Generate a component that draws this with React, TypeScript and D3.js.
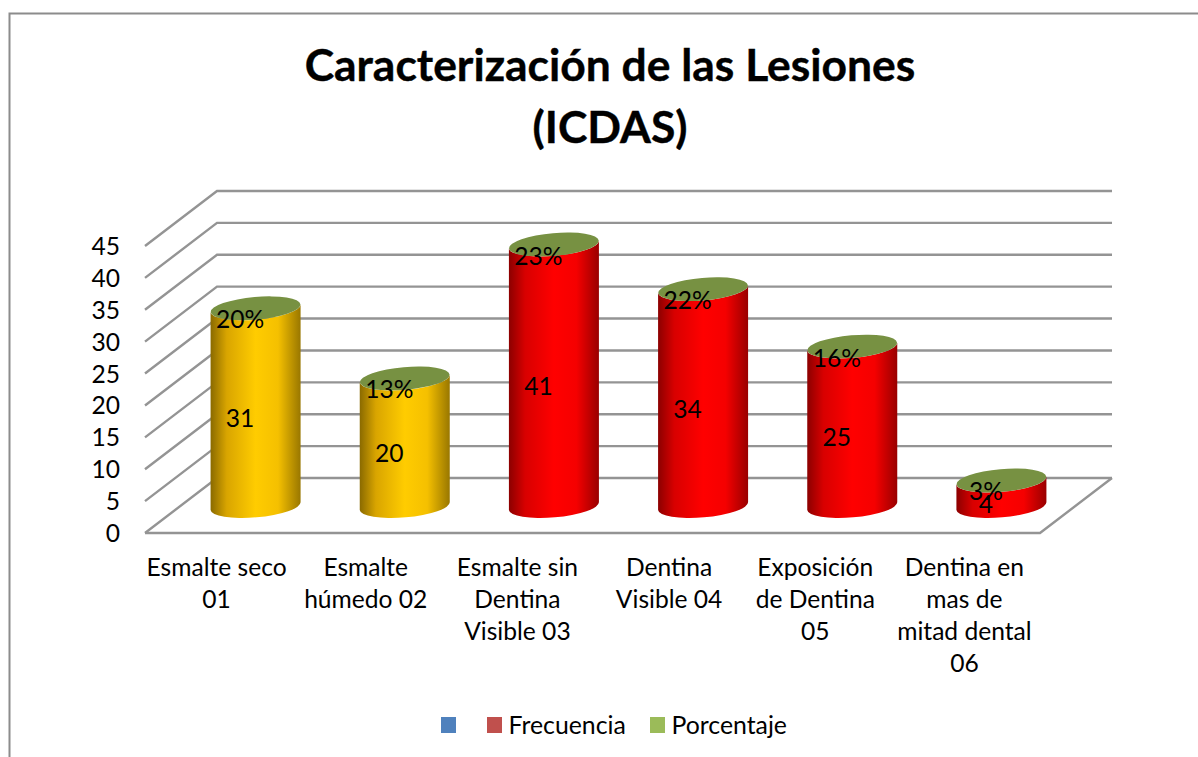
import React from "react";
import * as d3 from "d3";

const categories = [
  ["Esmalte seco", "01"],
  ["Esmalte", "húmedo 02"],
  ["Esmalte sin", "Dentina", "Visible 03"],
  ["Dentina", "Visible 04"],
  ["Exposición", "de Dentina", "05"],
  ["Dentina en", "mas de", "mitad dental", "06"],
];
const frecuencia = [31, 20, 41, 34, 25, 4];
const porcentaje = ["20%", "13%", "23%", "22%", "16%", "3%"];
const barColors = ["gold", "gold", "red", "red", "red", "red"];
const yTicks = [0, 5, 10, 15, 20, 25, 30, 35, 40, 45];
const legendItems = [
  { label: "", color: "#4f81bd", x: 441 },
  { label: "Frecuencia", color: "#c0504d", x: 487 },
  { label: "Porcentaje", color: "#9bbb59", x: 650 },
];
const titleLines = ["Caracterización de las Lesiones", "(ICDAS)"];

const FONT = "Lato, Carlito, sans-serif";
const DX = 72;
const DY = -55;
const y = d3.scaleLinear().domain([0, 45]).range([533, 246]);
const x = d3.scaleBand<number>().domain(d3.range(6)).range([145, 1040]);
const labelNudge = [-3, -3, -0.5, 2, -1, -1];
const RX = 45;
const RY = 11.3;
const TILT = -5;
const dy = RX * Math.sin((TILT * Math.PI) / 180);

function Cylinder({ i, v }: { i: number; v: number }) {
  const cx = x(i)! + x.bandwidth() / 2 + DX / 2;
  const base = y(0) + DY / 2 + 0.5;
  const top = y(v) + DY / 2 + 0.5;
  const g = barColors[i] === "gold" ? "url(#goldGrad)" : "url(#redGrad)";
  const body = `M${cx - RX},${top - dy} L${cx - RX},${base - dy} A${RX},${RY} ${TILT} 0 0 ${cx + RX},${base + dy} L${cx + RX},${top + dy} A${RX},${RY} ${TILT} 0 1 ${cx - RX},${top - dy} Z`;
  return (
    <g>
      <path d={body} fill={g} />
      <ellipse cx={cx} cy={top} rx={RX} ry={RY} transform={`rotate(${TILT} ${cx} ${top})`} fill="#779142" />
    </g>
  );
}

export default function App() {
  const wall = yTicks.map((t) => y(t));
  return (
    <svg width={1198} height={757} style={{ position: "absolute", left: 0, top: 0, background: "#fff" }} fontFamily={FONT}>
      <defs>
        <linearGradient id="goldGrad" x1="0" x2="1" y1="0" y2="0">
          <stop offset="0" stopColor="#8a6a00" />
          <stop offset="0.18" stopColor="#d9a500" />
          <stop offset="0.5" stopColor="#ffcc00" />
          <stop offset="0.75" stopColor="#f5c000" />
          <stop offset="1" stopColor="#997700" />
        </linearGradient>
        <linearGradient id="redGrad" x1="0" x2="1" y1="0" y2="0">
          <stop offset="0" stopColor="#8c0000" />
          <stop offset="0.18" stopColor="#d80000" />
          <stop offset="0.5" stopColor="#ff0000" />
          <stop offset="0.75" stopColor="#f50000" />
          <stop offset="1" stopColor="#990000" />
        </linearGradient>
      </defs>
      <rect x={9.5} y={13.5} width={1230} height={780} fill="#fff" stroke="#8c8c8c" strokeWidth={2} />
      {titleLines.map((t, i) => (
        <text key={t} x={610} y={81 + i * 62} textAnchor="middle" fontSize={44.4} fontWeight={700} stroke="#000" strokeWidth={0.4} fill="#000">{t}</text>
      ))}
      <g stroke="#949494" strokeWidth={2.4} fill="none">
        {wall.map((w, i) => (
          <path key={i} d={`M${x.range()[0]},${w} L${x.range()[0] + DX},${w + DY} L${x.range()[1] + DX},${w + DY}`} />
        ))}
        <path d={`M${x.range()[0]},${y(0)} L${x.range()[1]},${y(0)} L${x.range()[1] + DX},${y(0) + DY}`} />
      </g>
      {frecuencia.map((v, i) => <Cylinder key={i} i={i} v={v} />)}
      {frecuencia.map((v, i) => {
        const cx = x(i)! + x.bandwidth() / 2 + DX / 2;
        const top = y(v) + DY / 2 + 0.5;
        const base = y(0) + DY / 2 + 0.5;
        return (
          <g key={i} fontSize={24.6} fill="#000" textAnchor="middle">
            <text x={cx - 15.5} y={(top + base) / 2 + 20}>{v}</text>
            <text x={cx - 15.5} y={top + 20}>{porcentaje[i]}</text>
          </g>
        );
      })}
      {yTicks.map((t) => (
        <text key={t} x={120} y={y(t) + 9} textAnchor="end" fontSize={24.6} fill="#000">{t}</text>
      ))}
      {categories.map((lines, i) => (
        <g key={i}>
          {lines.map((l, j) => (
            <text key={j} x={x(i)! + x.bandwidth() / 2 + labelNudge[i]} y={576 + j * 32} textAnchor="middle" fontSize={24.6} fill="#000">{l}</text>
          ))}
        </g>
      ))}
      {legendItems.map((d) => (
        <g key={d.x}>
          <rect x={d.x} y={717} width={15} height={16} fill={d.color} />
          <text x={d.x + 21.5} y={734} fontSize={24.8} fill="#000">{d.label}</text>
        </g>
      ))}
    </svg>
  );
}
